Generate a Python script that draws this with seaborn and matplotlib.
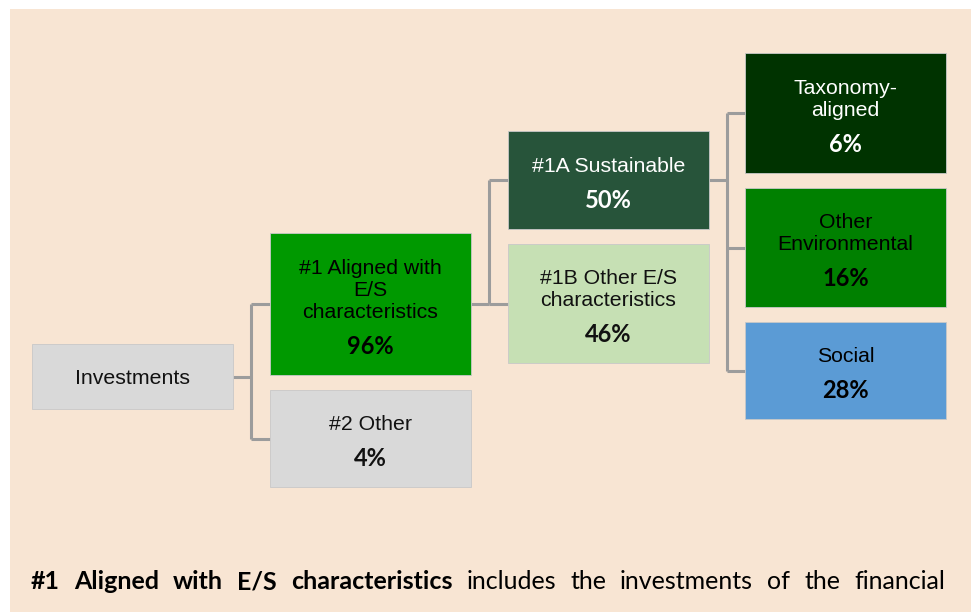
import matplotlib
matplotlib.use("Agg")
import matplotlib.pyplot as plt
from matplotlib.patches import Rectangle
import seaborn as sns

# Tree data: node labels, shares and parent links
nodes = ["Investments", "#1 Aligned with\nE/S\ncharacteristics", "#2 Other",
         "#1A Sustainable", "#1B Other E/S\ncharacteristics",
         "Taxonomy-\naligned", "Other\nEnvironmental", "Social"]
shares = [None, "96%", "4%", "50%", "46%", "6%", "16%", "28%"]
parents = [None, 0, 0, 1, 1, 3, 3, 3]
footnote_bold = "#1 Aligned with E/S characteristics"
footnote_rest = "includes the investments of the financial"

# Layout (pixel units): column, top, bottom
col_left = [32, 270, 508, 745]
box_w = 201
layout = [(0, 344, 409), (1, 233, 375), (1, 390, 487), (2, 131, 229),
          (2, 244, 363), (3, 53, 173), (3, 188, 307), (3, 322, 419)]
fills = ["#d9d9d9", "#009900", "#d9d9d9", "#27543a", "#c6e0b4",
         "#003300", "#008000", "#5b9bd5"]
text_col = ["#111111", "#000000", "#111111", "white", "#111111",
            "white", "#000000", "#000000"]

sns.set_theme(style="white")
fig = plt.figure(figsize=(9.71, 6.12), dpi=100, facecolor="white")
ax = fig.add_axes([0, 0, 1, 1])
ax.set_xlim(0, 971)
ax.set_ylim(612, 0)
ax.axis("off")

ax.add_patch(Rectangle((10, 9), 961, 603, facecolor="#f8e5d3", edgecolor="none", zorder=0))

def center_y(i):
    return (layout[i][1] + layout[i][2]) / 2

# connectors
line_kw = dict(color="#9c9c9c", lw=2.2, solid_capstyle="butt", zorder=1)
for p in set(x for x in parents if x is not None):
    kids = [i for i, q in enumerate(parents) if q == p]
    x0 = col_left[layout[p][0]] + box_w
    xm = x0 + 18
    x1 = col_left[layout[kids[0]][0]]
    ys = [center_y(k) for k in kids] + [center_y(p)]
    ax.plot([x0, xm], [center_y(p)] * 2, **line_kw)
    ax.plot([xm, xm], [min(ys), max(ys)], **line_kw)
    for k in kids:
        ax.plot([xm, x1], [center_y(k)] * 2, **line_kw)

# boxes and texts
for i, (label, share) in enumerate(zip(nodes, shares)):
    c, top, bot = layout[i]
    x = col_left[c]
    ax.add_patch(Rectangle((x, top), box_w, bot - top, facecolor=fills[i],
                           edgecolor="#c8c8c8", lw=0.6, zorder=2))
    cx = x + box_w / 2
    if share is None:
        ax.text(cx, center_y(i) + 2, label, ha="center", va="center", fontsize=15.3,
                family="Liberation Sans", color=text_col[i], zorder=3)
        continue
    py = bot - 29
    ax.text(cx, py, share, ha="center", va="center", fontsize=17,
            family="Lato", fontweight="bold", color=text_col[i], zorder=3)
    lines = label.split("\n")
    for j, ln in enumerate(lines):
        ly = py - 33 - 22 * (len(lines) - 1 - j)
        ax.text(cx, ly, ln, ha="center", va="center", fontsize=15.3,
                family="Liberation Sans", color=text_col[i], zorder=3)

# justified footnote line
words = [(w, "bold") for w in footnote_bold.split()] + [(w, "normal") for w in footnote_rest.split()]
texts = [ax.text(0, 589, w, ha="left", va="baseline", fontsize=18, family="Lato",
                 fontweight=fw, color="black") for w, fw in words]
fig.canvas.draw()
r = fig.canvas.get_renderer()
widths = [t.get_window_extent(r).width for t in texts]
x_start, x_end = 31, 945
gap = (x_end - x_start - sum(widths)) / (len(words) - 1)
x = x_start
for t, w in zip(texts, widths):
    t.set_x(x)
    x += w + gap

fig.savefig("out.png", dpi=100, facecolor="white")
